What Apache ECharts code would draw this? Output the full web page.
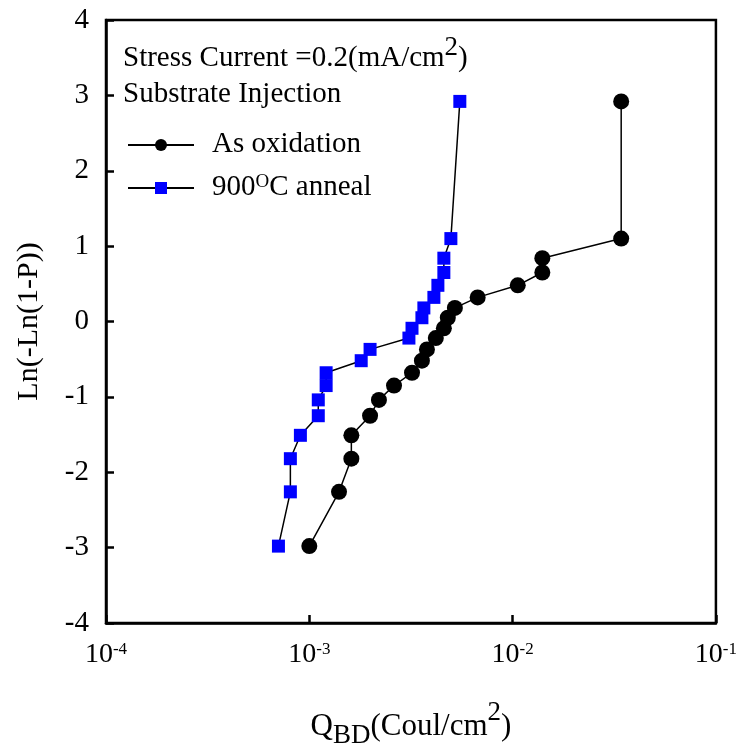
<!DOCTYPE html>
<html>
<head>
<meta charset="utf-8">
<script src="https://cdn.jsdelivr.net/npm/echarts@6/dist/echarts.min.js"></script>
<style>
  html, body { margin: 0; padding: 0; background: #fff; }
  #chart { width: 740px; height: 754px; }
</style>
</head>
<body>
<div id="chart"></div>
<script>
// Weibull plot of charge-to-breakdown: Ln(-Ln(1-P)) vs Q_BD
const asOxQ = [1.0e-3, 1.40e-3, 1.61e-3, 1.61e-3, 1.99e-3, 2.20e-3, 2.61e-3, 3.20e-3, 3.58e-3, 3.79e-3,
               4.19e-3, 4.59e-3, 4.80e-3, 5.20e-3, 6.73e-3, 1.06e-2, 1.40e-2, 1.40e-2, 3.42e-2, 3.42e-2];
const asOxF = [-2.98, -2.26, -1.82, -1.51, -1.25, -1.04, -0.85, -0.68, -0.52, -0.37,
               -0.22, -0.09, 0.05, 0.18, 0.32, 0.48, 0.65, 0.84, 1.10, 2.92];
const annealQ = [0.705e-3, 0.807e-3, 0.807e-3, 0.904e-3, 1.107e-3, 1.107e-3, 1.21e-3, 1.21e-3, 1.80e-3, 1.99e-3,
                 3.09e-3, 3.20e-3, 3.58e-3, 3.66e-3, 4.10e-3, 4.29e-3, 4.59e-3, 4.59e-3, 4.97e-3, 5.50e-3];
const annealF = [-2.98, -2.26, -1.82, -1.51, -1.25, -1.04, -0.85, -0.68, -0.52, -0.37,
                 -0.22, -0.09, 0.05, 0.18, 0.32, 0.48, 0.65, 0.84, 1.10, 2.92];
const xTickExp = {0.0001: '-4', 0.001: '-3', 0.01: '-2', 0.1: '-1'};
const seriesNames = ['As oxidation', '900C anneal'];

const FONT = '"Liberation Serif", "Times New Roman", serif';
const pair = (xs, ys) => xs.map((x, i) => [x, ys[i]]);

const chart = echarts.init(document.getElementById('chart'), null, { renderer: 'canvas' });
chart.setOption({
  animation: false,
  backgroundColor: '#fff',
  textStyle: { fontFamily: FONT, color: '#000' },
  grid: { left: 106, right: 22, top: 20, bottom: 128, show: true, borderColor: '#000', borderWidth: 2.5 },
  xAxis: {
    type: 'log', logBase: 10, min: 1e-4, max: 1e-1,
    name: '{t|Q}{sub|BD}{t|(Coul/cm}{sup|2}{t|)}',
    nameLocation: 'middle', nameGap: 73,
    nameTextStyle: {
      fontFamily: FONT, color: '#000',
      rich: {
        t: { fontSize: 31, fontFamily: FONT, color: '#000', verticalAlign: 'top', lineHeight: 31, padding: [15, 0, 0, 0] },
        sub: { fontSize: 27, fontFamily: FONT, color: '#000', verticalAlign: 'top', lineHeight: 27, padding: [26, 0, 0, 0] },
        sup: { fontSize: 27, fontFamily: FONT, color: '#000', verticalAlign: 'top', lineHeight: 27, padding: [3, 0, 0, 0] }
      }
    },
    axisLine: { show: true, onZero: false, lineStyle: { color: '#000', width: 2.5 } },
    axisTick: { show: true, inside: true, length: 8, lineStyle: { color: '#000', width: 2.5 } },
    minorTick: { show: false },
    splitLine: { show: false },
    axisLabel: {
      margin: 18,
      formatter: v => '{b|10}{s|' + (xTickExp[v] || '') + '}',
      rich: {
        b: { fontSize: 28, fontFamily: FONT, color: '#000', verticalAlign: 'bottom', lineHeight: 28 },
        s: { fontSize: 17, fontFamily: FONT, color: '#000', verticalAlign: 'top', lineHeight: 17 }
      }
    }
  },
  yAxis: {
    type: 'value', min: -4, max: 4, interval: 1,
    name: 'Ln(-Ln(1-P))', nameLocation: 'middle', nameGap: 62, nameRotate: 90,
    nameTextStyle: { fontSize: 30, fontFamily: FONT, color: '#000' },
    axisLine: { show: true, onZero: false, lineStyle: { color: '#000', width: 2.5 } },
    axisTick: { show: true, inside: true, length: 8, lineStyle: { color: '#000', width: 2.5 } },
    splitLine: { show: false },
    axisLabel: { fontSize: 29, fontFamily: FONT, color: '#000', margin: 17 }
  },
  legend: {
    left: 122, top: 125, orient: 'vertical', itemGap: 14,
    itemWidth: 66, itemHeight: 15,
    data: seriesNames,
    formatter: name => name === '900C anneal' ? '{t|900}{sup|O}{t|C anneal}' : '{t|' + name + '}',
    textStyle: {
      fontSize: 29, fontFamily: FONT, color: '#000', padding: [0, 0, 0, 13],
      rich: {
        t: { fontSize: 29, fontFamily: FONT, color: '#000', verticalAlign: 'top', lineHeight: 30 },
        sup: { fontSize: 19, fontFamily: FONT, color: '#000', verticalAlign: 'top', lineHeight: 19 }
      }
    }
  },
  graphic: [
    {
      type: 'text', left: 123, top: 34,
      style: {
        text: '{t|Stress Current =0.2(mA/cm}{s|2}{t|)}',
        rich: {
          t: { fontSize: 29, fontFamily: FONT, fill: '#000', verticalAlign: 'bottom', lineHeight: 29 },
          s: { fontSize: 27, fontFamily: FONT, fill: '#000', verticalAlign: 'bottom', lineHeight: 27, padding: [0, 0, 12, 0] }
        }
      }
    },
    {
      type: 'text', left: 123, top: 80,
      style: { text: 'Substrate Injection', fontSize: 29, fontFamily: FONT, fill: '#000', lineHeight: 29 }
    }
  ],
  series: [
    {
      name: seriesNames[0], type: 'line', data: pair(asOxQ, asOxF),
      symbol: 'circle', symbolSize: 16,
      itemStyle: { color: '#000' },
      lineStyle: { color: '#000', width: 1.5 }
    },
    {
      name: seriesNames[1], type: 'line', data: pair(annealQ, annealF),
      symbol: 'rect', symbolSize: 13,
      itemStyle: { color: '#0000ff' },
      lineStyle: { color: '#000', width: 1.5 }
    }
  ]
});
</script>
</body>
</html>
